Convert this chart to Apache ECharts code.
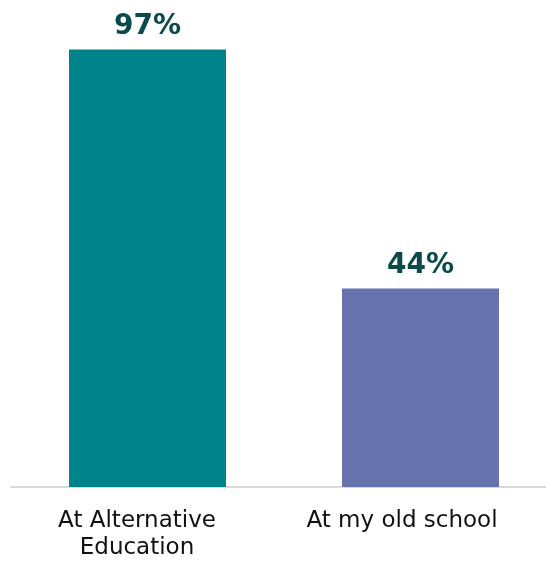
<!DOCTYPE html>
<html><head><meta charset="utf-8">
<script src="https://cdn.jsdelivr.net/npm/echarts@6/dist/echarts.min.js"></script>
<style>html,body{margin:0;padding:0;background:#fff}#c{width:546px;height:562px}</style>
</head><body><div id="c"></div>
<script>
const categories = ["At Alternative\nEducation", "At my old school"];
const values = [97, 44];
const barColors = ["#00838A", "#6673AF"];

const chart = echarts.init(document.getElementById('c'), null, {renderer: 'canvas'});
chart.setOption({
  animation: false,
  grid: {left: 11, width: 546, top: 36, bottom: 75, containLabel: false, outerBoundsMode: 'none'},
  xAxis: {
    type: 'category',
    data: categories,
    axisLine: {show: true, lineStyle: {color: '#D9D9D9', width: 2}},
    axisTick: {show: false},
    axisLabel: {
      margin: 21,
      interval: 0,
      formatter: function (v, i) {
        const key = i === 0 ? 'a' : 'b';
        return v.split('\n').map(s => '{' + key + '|' + s + '}').join('\n');
      },
      rich: {
        a: {fontFamily: 'DejaVu Sans', fontSize: 23, color: '#111', lineHeight: 27, padding: [0, 21, 0, 0]},
        b: {fontFamily: 'DejaVu Sans', fontSize: 23, color: '#111', lineHeight: 27, padding: [0, 37, 0, 0]}
      }
    }
  },
  yAxis: {type: 'value', min: 0, max: 100, show: false, splitLine: {show: false}},
  series: [{
    type: 'bar',
    barWidth: 157,
    data: values.map((v, i) => ({value: v, itemStyle: {color: barColors[i]}})),
    label: {
      show: true,
      position: 'top',
      distance: 9,
      formatter: '{c}%',
      fontFamily: 'DejaVu Sans',
      fontWeight: 'bold',
      fontSize: 28,
      color: '#0B4A4C'
    }
  }]
});
</script></body></html>
